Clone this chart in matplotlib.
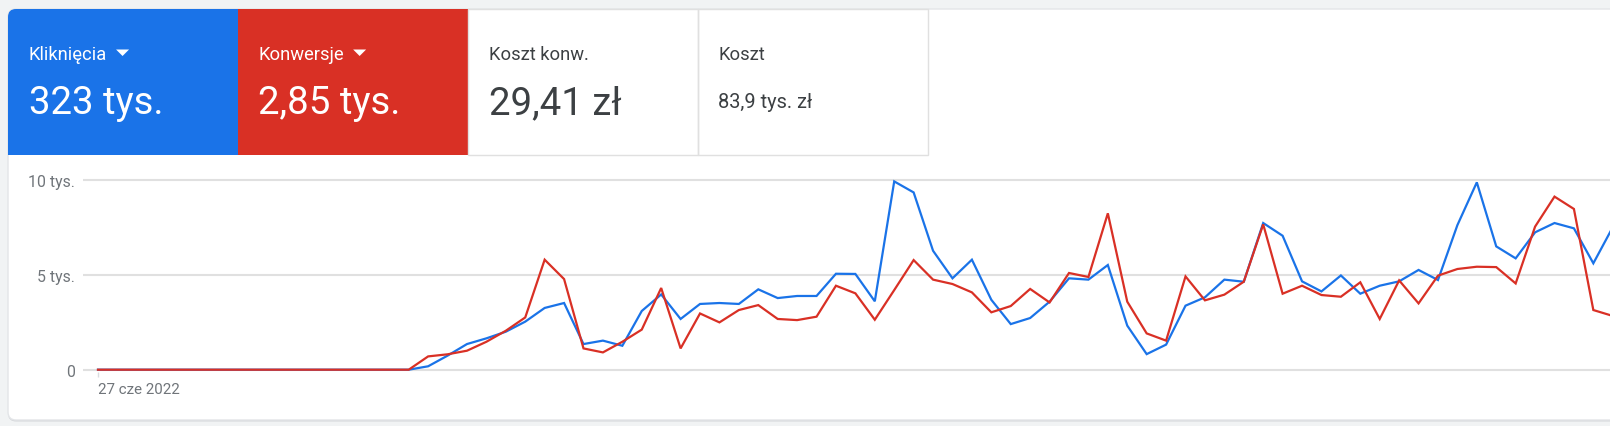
import matplotlib as mpl
mpl.use('Agg')
import matplotlib.pyplot as plt
import numpy as np
from matplotlib.patches import FancyBboxPatch, Rectangle, Polygon
from matplotlib.transforms import IdentityTransform

plt.rcParams['font.family'] = ['Roboto', 'DejaVu Sans']

# dane dzienne (od 27 cze 2022)
clicks = [0] * 17 + [
    180, 740, 1350, 1650, 2000, 2530, 3250, 3510, 1350, 1530, 1260, 3090,
    3960, 2670, 3460, 3510, 3460, 4230, 3770, 3880, 3880, 5050, 5040, 3600,
    9910, 9330, 6260, 4810, 5790, 3680, 2400, 2720, 3580, 4810, 4740, 5510,
    2320, 820, 1320, 3370, 3810, 4740, 4630, 7720, 7050, 4650, 4120, 4960,
    4000, 4420, 4650, 5250, 4720, 7610, 9860, 6490, 5860, 7230, 7720, 7440,
    5600, 7500]
conversions = [0] * 17 + [
    700, 810, 1000, 1470, 2050, 2750, 5790, 4770, 1120, 910, 1470, 2110,
    4300, 1120, 2960, 2490, 3140, 3400, 2670, 2610, 2790, 4420, 4020, 2630,
    4190, 5770, 4740, 4510, 4070, 3020, 3350, 4250, 3540, 5090, 4880, 8230,
    3580, 1910, 1530, 4910, 3650, 3950, 4630, 7650, 4000, 4420, 3930, 3840,
    4600, 2670, 4700, 3490, 4950, 5300, 5420, 5400, 4540, 7530, 9110, 8460,
    3140, 2830]

y_ticks = [0, 5000, 10000]
y_labels = ['0', '5 tys.', '10 tys.']
x_label = '27 cze 2022'

tiles = [
    ('Kliknięcia', '323 tys.', '#1a73e8', 'white', True),
    ('Konwersje', '2,85 tys.', '#d93025', 'white', True),
    ('Koszt konw.', '29,41 zł', 'white', '#3c4043', False),
    ('Koszt', '83,9 tys. zł', 'white', '#3c4043', False),
]

W, H = 1610, 427
fig = plt.figure(figsize=(W / 100, H / 100), dpi=100, facecolor='#f1f3f4')
pix = IdentityTransform()


def Y(y):
    # piksele od gory -> wspolrzedne ekranu
    return H - y


# karta
card_top, card_bot, card_left = 10, 421, 8
fig.add_artist(FancyBboxPatch((card_left, Y(card_bot) - 1.5), W, card_bot - card_top,
                              boxstyle='round,pad=0,rounding_size=8', fc='#d5d7da',
                              ec='none', transform=pix, zorder=0))
fig.add_artist(FancyBboxPatch((card_left, Y(card_bot)), W, card_bot - card_top,
                              boxstyle='round,pad=0,rounding_size=8', fc='white',
                              ec='#e3e5e8', lw=1, transform=pix, zorder=1))

tile_x = [8, 237.7, 468, 697.5, 927.5]
tile_bot = 156
for i, (lab, val, bg, fg, arrow) in enumerate(tiles):
    x0, x1 = tile_x[i], tile_x[i + 1]
    if bg != 'white':
        if i == 0:
            fig.add_artist(FancyBboxPatch((x0, Y(tile_bot)), x1 - x0, tile_bot - card_top,
                                          boxstyle='round,pad=0,rounding_size=8', fc=bg,
                                          ec='none', transform=pix, zorder=2))
            fig.add_artist(Rectangle((x0, Y(tile_bot)), x1 - x0, tile_bot - card_top - 8,
                                     fc=bg, ec='none', transform=pix, zorder=2))
            fig.add_artist(Rectangle((x0 + 8, Y(tile_bot)), x1 - x0 - 8, tile_bot - card_top,
                                     fc=bg, ec='none', transform=pix, zorder=2))
        else:
            fig.add_artist(Rectangle((x0, Y(tile_bot)), x1 - x0, tile_bot - card_top,
                                     fc=bg, ec='none', transform=pix, zorder=2))
    else:
        fig.add_artist(Rectangle((x0, Y(tile_bot)), x1 - x0, tile_bot - card_top,
                                 fc='none', ec='#e0e0e0', lw=1, transform=pix, zorder=2))
    tx = x0 + 20.8
    t = fig.text(tx, Y(60), lab, color=fg, fontsize=13.2, va='baseline', ha='left',
                 transform=pix, zorder=3)
    if arrow:
        fig.canvas.draw()
        bb = t.get_window_extent()
        ax0 = bb.x1 + 9
        fig.add_artist(Polygon([[ax0, Y(50.5)], [ax0 + 13, Y(50.5)], [ax0 + 6.5, Y(57)]],
                               closed=True, fc=fg, ec='none', transform=pix, zorder=3))
    if val.startswith('83'):
        fig.text(tx, Y(108.5), val, color=fg, fontsize=14.4, va='baseline', ha='left',
                 transform=pix, zorder=3)
    else:
        fig.text(tx, Y(114), val, color=fg, fontsize=27.6, va='baseline', ha='left',
                 transform=pix, zorder=3)

# wykres
x0_px, spacing = 98.0, 19.42
ax_left, ax_top, ax_bot = 82.7, 165.0, 372.5
zero_px, per_k = 370.7, 19.0
ax = fig.add_axes([ax_left / W, (H - ax_bot) / H, 1 - ax_left / W, (ax_bot - ax_top) / H])
ax.set_facecolor('none')
ax.set_zorder(4)

x = np.arange(len(clicks))
ax.plot(x, clicks, color='#1a73e8', lw=1.6, solid_joinstyle='miter', zorder=3)
ax.plot(x, conversions, color='#d93025', lw=1.6, solid_joinstyle='miter', zorder=4)

ax.set_xlim(-(x0_px - ax_left) / spacing, (W - x0_px) / spacing)
ax.set_ylim((zero_px - ax_bot) / per_k * 1000, (zero_px - ax_top) / per_k * 1000)

ax.set_yticks(y_ticks)
ax.set_yticklabels(y_labels)
ax.set_xticks([0])
ax.set_xticklabels([x_label], ha='left')
ax.tick_params(axis='y', length=0, pad=5.5, labelsize=11.4, labelcolor='#70757a')
ax.tick_params(axis='x', length=3.8, width=1, color='#dadce0', pad=4, labelsize=10.9,
               labelcolor='#70757a')
ax.grid(axis='y', color='#e0e0e0', lw=1.5)
ax.set_axisbelow(True)
for s in ax.spines.values():
    s.set_visible(False)

fig.savefig('out.png', dpi=100, facecolor=fig.get_facecolor())
